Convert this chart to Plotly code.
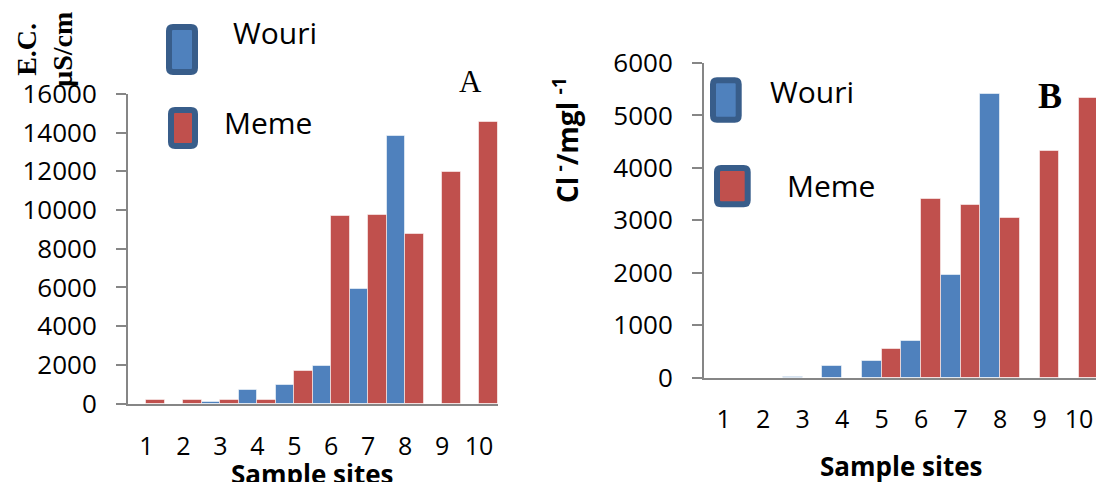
import plotly.graph_objects as go

# ---------------- data ----------------
sites = [1, 2, 3, 4, 5, 6, 7, 8, 9, 10]
site_labels = ["1", "2", "3", "4", "5", "6", "7", "8", "9", "10"]

ec_wouri = [0, 0, 60, 700, 960, 1940, 5900, 13830, 0, 0]
ec_meme = [175, 180, 170, 180, 1700, 9700, 9750, 8750, 11970, 14550]

cl_wouri = [0, 0, 10, 220, 320, 700, 1950, 5400, 0, 0]
cl_meme = [0, 0, 0, 0, 540, 3410, 3290, 3050, 4320, 5340]

ec_ticks = [0, 2000, 4000, 6000, 8000, 10000, 12000, 14000, 16000]
cl_ticks = [0, 1000, 2000, 3000, 4000, 5000, 6000]

BLUE = "#4f81bd"
RED = "#c0504d"
EDGE = "#385d8a"
AXIS = "#868686"
W, H = 1096, 482

fig = go.Figure()
bar_line = dict(color="rgba(255,255,255,0.55)", width=1)
fig.add_trace(go.Bar(x=sites, y=ec_wouri, name="Wouri", marker=dict(color=BLUE, line=bar_line),
                     xaxis="x", yaxis="y"))
fig.add_trace(go.Bar(x=sites, y=ec_meme, name="Meme", marker=dict(color=RED, line=bar_line),
                     xaxis="x", yaxis="y"))
fig.add_trace(go.Bar(x=sites, y=cl_wouri, name="Wouri", marker=dict(color=BLUE, line=bar_line),
                     xaxis="x2", yaxis="y2"))
fig.add_trace(go.Bar(x=sites, y=cl_meme, name="Meme", marker=dict(color=RED, line=bar_line),
                     xaxis="x2", yaxis="y2"))

FONT = "Open Sans"

def xax(domain, rng, anchor, standoff):
    return dict(domain=domain, range=rng, anchor=anchor, tickvals=sites, ticktext=site_labels,
                ticks="", showline=True, linecolor=AXIS, linewidth=2, showgrid=False,
                zeroline=False, tickfont=dict(family=FONT, size=25, color="#000"),
                ticklabelstandoff=standoff, automargin=False, fixedrange=True)

def yax(domain, rng, ticks, anchor):
    return dict(domain=domain, range=rng, anchor=anchor, tickvals=ticks,
                ticktext=[str(t) for t in ticks],
                ticks="outside", ticklen=10, tickwidth=2, tickcolor=AXIS,
                showline=True, linecolor=AXIS, linewidth=2, showgrid=False, zeroline=False,
                tickfont=dict(family=FONT, size=26, color="#000"), ticklabelstandoff=14,
                automargin=False, fixedrange=True)

def px_x(v):
    return v / W

def px_y(v):
    return 1 - v / H

fig.update_layout(
    width=W, height=H, autosize=False,
    margin=dict(l=0, r=0, t=0, b=0, autoexpand=False),
    paper_bgcolor="white", plot_bgcolor="white",
    showlegend=False,
    barmode="group", bargap=0, bargroupgap=0,
    xaxis=xax([px_x(128), px_x(497.5)], [0.5, 10.5], "y", 19),
    yaxis=yax([px_y(403.5), px_y(94)], [0, 16000], ec_ticks, "x"),
    xaxis2=xax([px_x(704), 1.0], [0.5, 10.43], "y2", 18),
    yaxis2=yax([px_y(377.5), px_y(63)], [0, 6000], cl_ticks, "x2"),
)

# ---------- legend swatches (rounded rectangles) ----------
def rounded(x0, y0, x1, y1, r=4):
    def P(x, y):
        return f"{px_x(x):.5f},{px_y(y):.5f}"
    return (f"M {P(x0 + r, y0)} L {P(x1 - r, y0)} Q {P(x1, y0)} {P(x1, y0 + r)} "
            f"L {P(x1, y1 - r)} Q {P(x1, y1)} {P(x1 - r, y1)} "
            f"L {P(x0 + r, y1)} Q {P(x0, y1)} {P(x0, y1 - r)} "
            f"L {P(x0, y0 + r)} Q {P(x0, y0)} {P(x0 + r, y0)} Z")

swatches = [
    (169, 27, 195, 72, BLUE),
    (171, 110, 195, 146, RED),
    (713, 80.3, 738.7, 119.7, BLUE),
    (717, 168, 747.7, 204.3, RED),
]
for x0, y0, x1, y1, col in swatches:
    fig.add_shape(type="path", path=rounded(x0, y0, x1, y1), xref="paper", yref="paper",
                  fillcolor=col, line=dict(color=EDGE, width=6), layer="above")

def ann(text, x, y, size, family=FONT, xanchor="center", angle=0, bold=False, color="#000"):
    if bold:
        text = f"<b>{text}</b>"
    fig.add_annotation(text=text, x=px_x(x), y=px_y(y), xref="paper", yref="paper",
                       xanchor=xanchor, yanchor="middle", showarrow=False, textangle=angle,
                       font=dict(family=family, size=size, color=color))

# legend labels
ann("Wouri", 231, 33, 30, xanchor="left")
ann("Meme", 222, 123, 30, xanchor="left")
ann("Wouri", 768, 91, 30, xanchor="left")
ann("Meme", 785, 186, 30, xanchor="left")

# panel letters
ann("A", 470.5, 81, 31, family="Liberation Serif")
ann("B", 1049.5, 96, 36, family="Liberation Serif", bold=True)

# axis titles
ann("Sample sites", 312.7, 474, 26, bold=True)
ann("Sample sites", 901, 466, 26, bold=True)
ann("E.C.<br>µS/cm", 45, 50, 28, family="Liberation Serif", angle=-90, bold=True)
ann("Cl<sup> -</sup>/mgl <sup>-1</sup>", 565, 140, 28, angle=-90, bold=True)

fig.write_html("out.html", config={"displayModeBar": False},
               post_script="document.body.style.margin='0';document.body.style.overflow='hidden';")
